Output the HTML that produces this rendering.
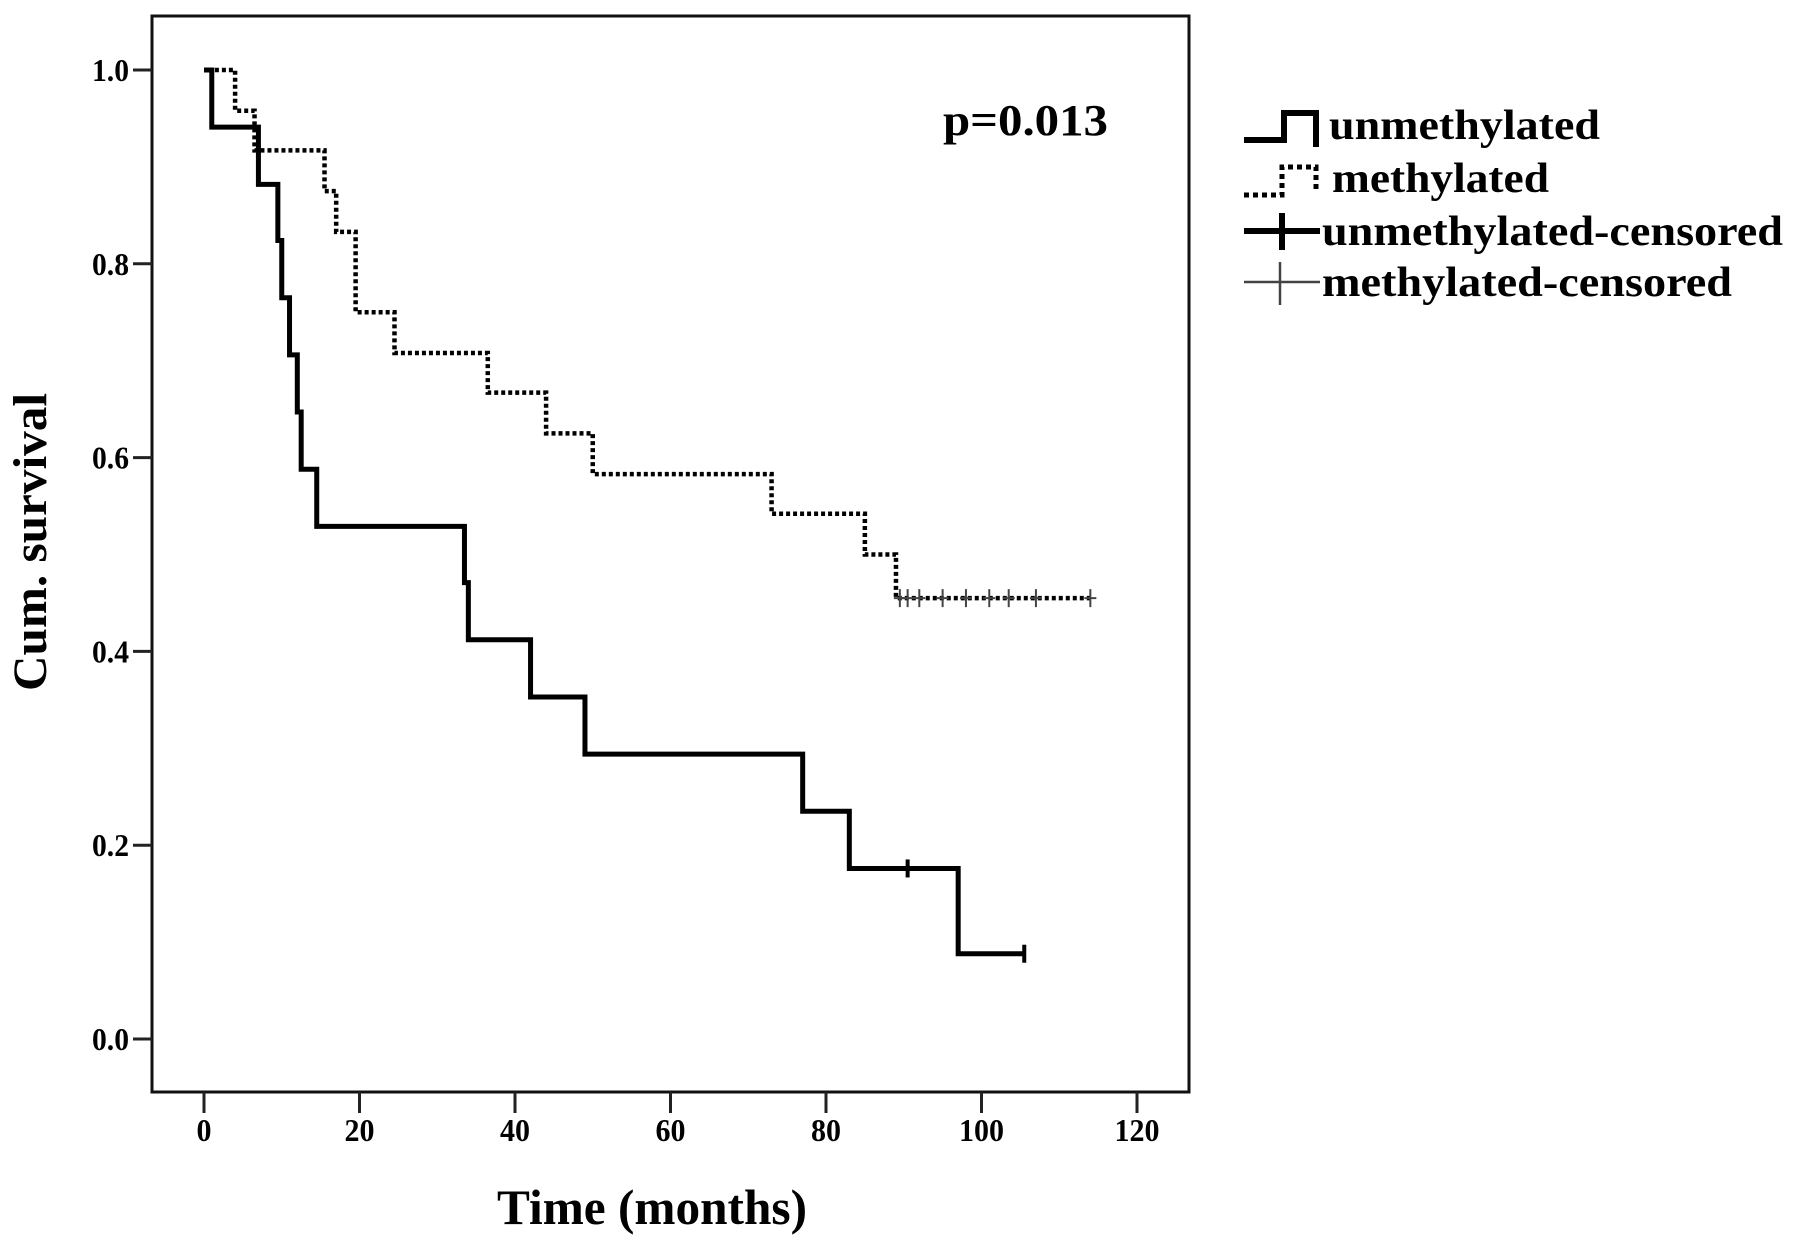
<!DOCTYPE html>
<html><head><meta charset="utf-8"><style>
html,body{margin:0;padding:0;background:#fff;}
svg{display:block;}
text{font-family:"Liberation Serif",serif;font-weight:bold;fill:#000;}
</style></head><body>
<svg id="chart" width="1796" height="1246" viewBox="0 0 1796 1246">
<rect x="152" y="16" width="1037" height="1076" fill="none" stroke="#111" stroke-width="3"/>
<g id="axes"></g>
<g id="series"></g>
<text transform="translate(46,542) rotate(-90)" text-anchor="middle" font-size="48" textLength="298" lengthAdjust="spacingAndGlyphs">Cum. survival</text>
<text x="652" y="1224" text-anchor="middle" font-size="50" textLength="310" lengthAdjust="spacingAndGlyphs">Time (months)</text>
<text x="943" y="135" font-size="44" textLength="165" lengthAdjust="spacingAndGlyphs">p=0.013</text>
<g>
  <path d="M1244,140 H1284 V113 H1316 V147" fill="none" stroke="#000" stroke-width="6"/>
  <text x="1329" y="139" font-size="42" textLength="271" lengthAdjust="spacingAndGlyphs">unmethylated</text>
  <path d="M1244,195 H1282 V167 H1316 V190" fill="none" stroke="#000" stroke-width="5" stroke-dasharray="5,4"/>
  <text x="1332" y="192" font-size="42" textLength="217" lengthAdjust="spacingAndGlyphs">methylated</text>
  <path d="M1244,231 H1320 M1282,213 V250" fill="none" stroke="#000" stroke-width="6"/>
  <text x="1322" y="245" font-size="42" textLength="461" lengthAdjust="spacingAndGlyphs">unmethylated-censored</text>
  <path d="M1244,282 H1320 M1280,262 V305" fill="none" stroke="#444" stroke-width="2.5"/>
  <text x="1322" y="296" font-size="42" textLength="410" lengthAdjust="spacingAndGlyphs">methylated-censored</text>
</g>
</svg>
<script>
const xTicks = [0,20,40,60,80,100,120];
const yTicks = [0.0,0.2,0.4,0.6,0.8,1.0];
const yTickLabels = ["0.0","0.2","0.4","0.6","0.8","1.0"];
const unTimes = [0,1,7,9.5,10,11,12,12.5,14.5,33.5,34,42,49,77,83,97,105.5];
const unSurv  = [1.0,0.941,0.882,0.824,0.765,0.706,0.647,0.588,0.529,0.471,0.412,0.353,0.294,0.235,0.176,0.088,0.088];
const unCensor = [90.5,105.5];
const unCensorSurv = [0.176,0.088];
const meTimes = [0.5,4,6.5,15.5,17,19.5,24.5,36.5,44,50,73,85,89,114];
const meSurv  = [1.0,0.958,0.917,0.875,0.833,0.75,0.708,0.667,0.625,0.583,0.542,0.5,0.455,0.455];
const meCensor = [89.5,90.5,92,95,98,101,103.5,107,114];
const meCensorSurv = [0.455,0.455,0.455,0.455,0.455,0.455,0.455,0.455,0.455];

const NS = "http://www.w3.org/2000/svg";
const X = m => 204 + (m/120)*(1137-204);
const Y = s => 1039 - s*(1039-70);
const axes = document.getElementById('axes');
const series = document.getElementById('series');
function mk(tag, attrs, parent){const e=document.createElementNS(NS,tag);for(const k in attrs)e.setAttribute(k,attrs[k]);parent.appendChild(e);return e;}

xTicks.forEach(t=>{
  const l=mk('line',{x1:X(t),x2:X(t),y1:1092,y2:1113,stroke:'#222','stroke-width':3},axes);
  
  
  const tx=mk('text',{x:X(t),y:1141,'text-anchor':'middle','font-size':32,textLength:String(t).length*15,lengthAdjust:'spacingAndGlyphs'},axes);
  
  
  tx.textContent=t;
});
yTicks.forEach((t,i)=>{
  const l=mk('line',{x1:133,x2:152,y1:Y(t),y2:Y(t),stroke:'#222','stroke-width':3},axes);
  
  
  const tx=mk('text',{x:129,y:Y(t)+11,'text-anchor':'end','font-size':32,textLength:37,lengthAdjust:'spacingAndGlyphs'},axes);
  
  
  tx.textContent=yTickLabels[i];
});

function stepPath(times, surv){
  let d='M'+X(times[0])+','+Y(1.0);
  for(let i=0;i<times.length;i++){
    d+=' H'+X(times[i])+' V'+Y(surv[i]);
  }
  return d;
}
const p1=mk('path',{d:stepPath(unTimes,unSurv),fill:'none',stroke:'#000','stroke-width':5},series);


const p2=mk('path',{d:stepPath(meTimes,meSurv),fill:'none',stroke:'#000','stroke-width':4.5,'stroke-dasharray':'4,3'},series);



unCensor.forEach((t,i)=>{
  const c=mk('path',{d:'M'+X(t)+','+(Y(unCensorSurv[i])-9)+' V'+(Y(unCensorSurv[i])+9),stroke:'#000','stroke-width':4},series);
  
  
});
meCensor.forEach((t,i)=>{
  const c=mk('path',{d:'M'+X(t)+','+(Y(meCensorSurv[i])-9)+' V'+(Y(meCensorSurv[i])+9)+' M'+(X(t)-6)+','+Y(meCensorSurv[i])+' H'+(X(t)+6),stroke:'#444','stroke-width':2},series);
  
  
});
</script>
</body></html>
